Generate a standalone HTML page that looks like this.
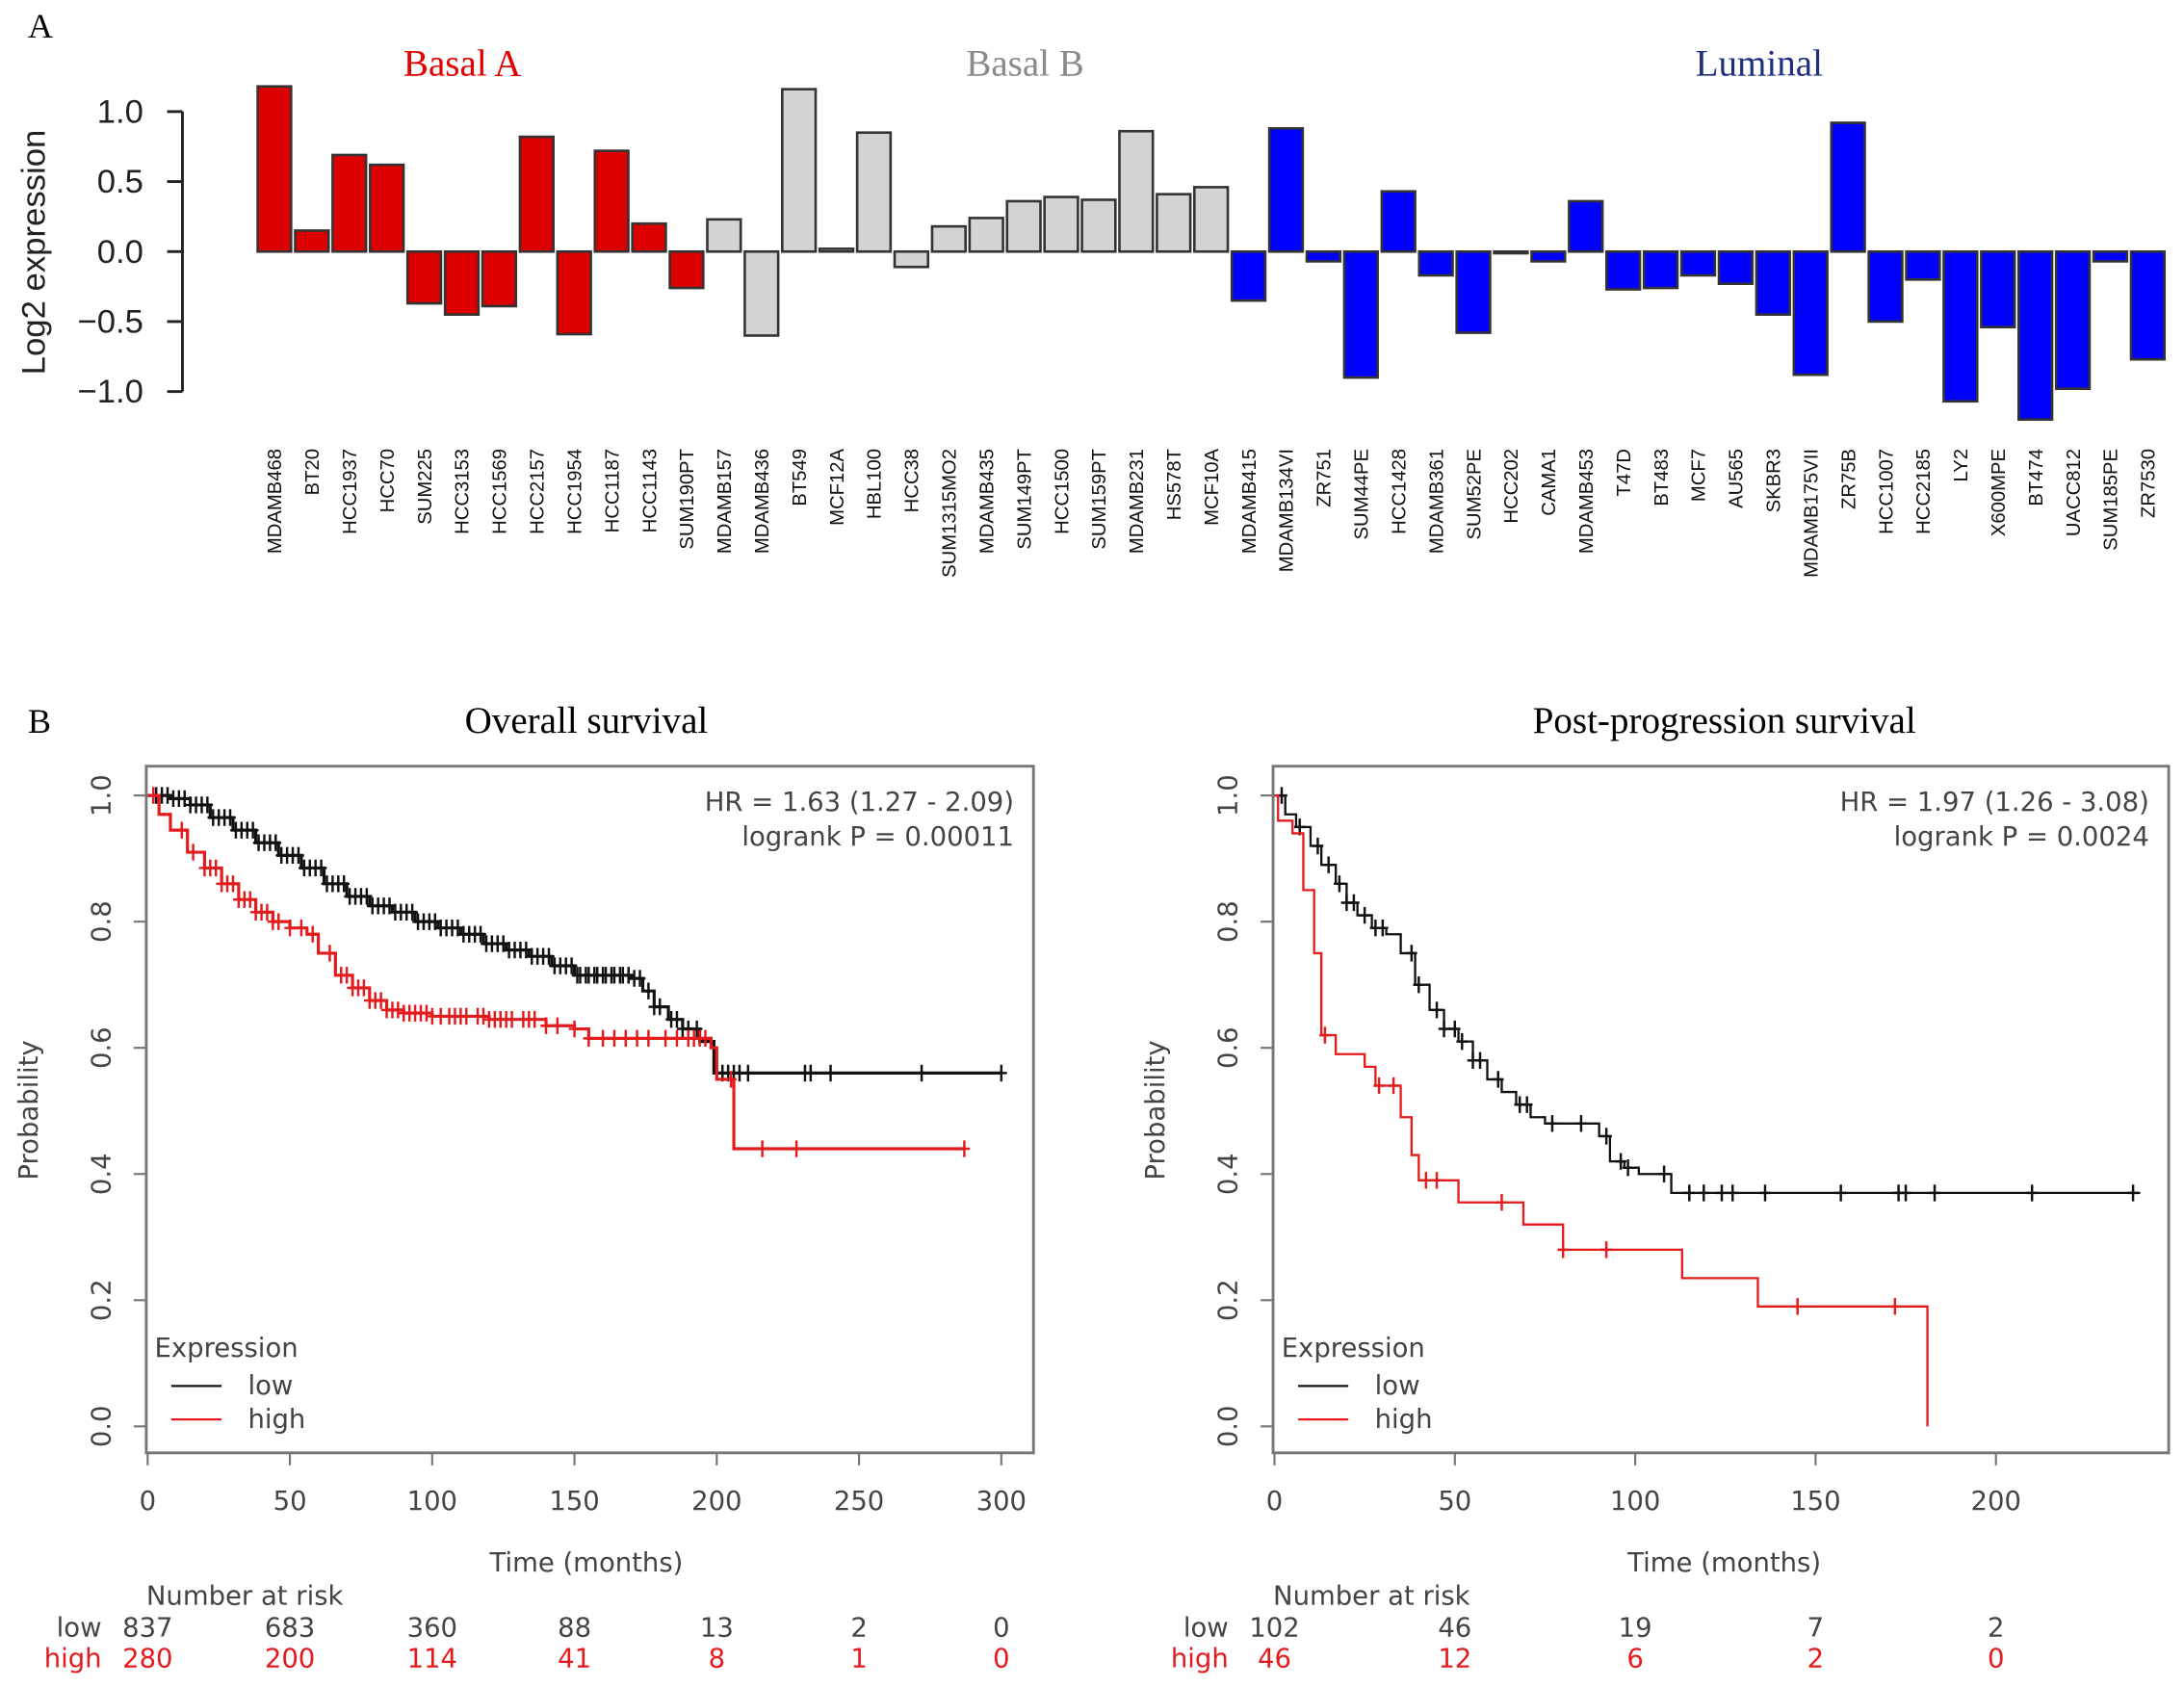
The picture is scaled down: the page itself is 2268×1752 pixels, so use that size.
<!DOCTYPE html>
<html><head><meta charset="utf-8">
<style>
html,body{margin:0;padding:0;background:#fff;}
svg{display:block;}
.serif{font-family:"Liberation Serif",serif;}
.sans{font-family:"Liberation Sans",sans-serif;}
.dj{font-family:"DejaVu Sans","Liberation Sans",sans-serif;}
</style></head>
<body>
<svg id="fig" width="2268" height="1752" viewBox="0 0 1568 1211" xmlns="http://www.w3.org/2000/svg">
<rect width="1568" height="1211" fill="#fff"/>
<g id="panelA">
<text class="serif" x="20" y="27" font-size="25">A</text>
<text class="serif" x="332" y="54" font-size="27" fill="#e00000" text-anchor="middle">Basal A</text>
<text class="serif" x="736" y="54" font-size="27" fill="#8a8a8a" text-anchor="middle">Basal B</text>
<text class="serif" x="1263" y="54" font-size="27" fill="#1f2f80" text-anchor="middle">Luminal</text>
<text class="sans" transform="translate(32,181) rotate(-90)" font-size="24" text-anchor="middle" fill="#222">Log2 expression</text>
</g>
<g id="panelB">
<text class="serif" x="20" y="526" font-size="25">B</text>
</g>
</svg>
<script>
// ---------- Panel A data ----------
const cellLines = ["MDAMB468","BT20","HCC1937","HCC70","SUM225","HCC3153","HCC1569","HCC2157","HCC1954","HCC1187","HCC1143","SUM190PT",
"MDAMB157","MDAMB436","BT549","MCF12A","HBL100","HCC38","SUM1315MO2","MDAMB435","SUM149PT","HCC1500","SUM159PT","MDAMB231","HS578T","MCF10A",
"MDAMB415","MDAMB134VI","ZR751","SUM44PE","HCC1428","MDAMB361","SUM52PE","HCC202","CAMA1","MDAMB453","T47D","BT483","MCF7","AU565","SKBR3","MDAMB175VII","ZR75B","HCC1007","HCC2185","LY2","X600MPE","BT474","UACC812","SUM185PE","ZR7530"];
const expression = [1.18,0.15,0.69,0.62,-0.37,-0.45,-0.39,0.82,-0.59,0.72,0.20,-0.26,
0.23,-0.60,1.16,0.02,0.85,-0.11,0.18,0.24,0.36,0.39,0.37,0.86,0.41,0.46,
-0.35,0.88,-0.07,-0.90,0.43,-0.17,-0.58,-0.01,-0.07,0.36,-0.27,-0.26,-0.17,-0.23,-0.45,-0.88,0.92,-0.50,-0.20,-1.07,-0.54,-1.20,-0.98,-0.07,-0.77];
const subtype = ["A","A","A","A","A","A","A","A","A","A","A","A",
"B","B","B","B","B","B","B","B","B","B","B","B","B","B",
"L","L","L","L","L","L","L","L","L","L","L","L","L","L","L","L","L","L","L","L","L","L","L","L","L"];
const yTicksA = [-1.0,-0.5,0.0,0.5,1.0];
const yTickLabelsA = ["\u22121.0","\u22120.5","0.0","0.5","1.0"];

// ---------- Panel B data ----------
const osLowT = [0,8,15,22,30,38,46,54,62,70,78,86,94,102,110,118,126,134,142,150,170,174,178,183,188,194,199,300];
const osLowS = [1.0,0.995,0.985,0.965,0.945,0.925,0.905,0.885,0.86,0.84,0.825,0.815,0.80,0.79,0.78,0.765,0.755,0.745,0.73,0.715,0.71,0.69,0.665,0.645,0.63,0.61,0.56,0.56];
const osLowCens = [3,5,7,9,11,13,15,17,19,21,23,25,27,29,31,33,35,37,39,41,43,45,47,49,51,53,55,57,59,61,63,65,67,69,71,73,75,77,79,81,83,85,87,89,91,93,95,97,99,101,103,105,107,109,111,113,115,117,119,121,123,125,127,129,131,133,135,137,139,141,143,145,147,149,151,152,154,155,157,158,160,161,163,164,166,167,169,171,173,176,178,180,184,186,188,190,193,202,204,206,208,211,231,233,240,272,300];
const osHighT = [0,4,8,14,20,26,32,38,44,50,56,60,66,72,78,84,90,100,120,140,150,155,198,200,206,287];
const osHighS = [1.0,0.97,0.945,0.91,0.885,0.86,0.835,0.815,0.80,0.79,0.78,0.75,0.715,0.695,0.675,0.66,0.655,0.65,0.645,0.635,0.63,0.615,0.60,0.55,0.44,0.44];
const osHighCens = [2,12,16,20,22,24,26,28,30,32,34,36,38,40,42,44,46,50,54,58,64,68,70,72,74,76,78,80,82,84,86,88,90,92,94,96,98,100,103,106,108,110,112,116,118,120,122,124,126,128,132,134,136,140,144,150,155,160,164,168,172,176,182,186,190,192,194,196,205,216,228,287];
const ppsLowT = [0,3,6,10,13,17,20,23,27,31,35,39,43,47,51,55,59,63,67,71,75,90,93,97,101,110,240];
const ppsLowS = [1.0,0.97,0.95,0.92,0.89,0.86,0.83,0.81,0.79,0.78,0.75,0.70,0.66,0.63,0.61,0.58,0.55,0.53,0.51,0.49,0.48,0.46,0.42,0.41,0.40,0.37,0.37];
const ppsLowCens = [2,7,12,15,18,20,22,25,28,30,38,40,45,47,50,52,55,57,62,68,70,77,85,92,96,98,108,115,119,124,127,136,157,173,175,183,210,238];
const ppsHighT = [0,1,5,8,11,13,17,25,28,35,38,40,51,69,80,113,134,181];
const ppsHighS = [1.0,0.96,0.94,0.85,0.75,0.62,0.59,0.57,0.54,0.49,0.43,0.39,0.355,0.32,0.28,0.235,0.19,0.0];
const ppsHighCens = [14,29,33,42,45,63,80,92,145,172];
const osRiskLow = ["837","683","360","88","13","2","0"];
const osRiskHigh = ["280","200","114","41","8","1","0"];
const ppsRiskLow = ["102","46","19","7","2"];
const ppsRiskHigh = ["46","12","6","2","0"];
const osXTicks = [0,50,100,150,200,250,300];
const ppsXTicks = [0,50,100,150,200];
const probTicks = [0.0,0.2,0.4,0.6,0.8,1.0];

const NS = "http://www.w3.org/2000/svg";
function mk(tag, attrs, parent){ const e=document.createElementNS(NS,tag); for(const k in attrs) e.setAttribute(k,attrs[k]); parent.appendChild(e); return e; }

// ---------- Panel A ----------
const gA = document.getElementById('panelA');
const yA = v => 180.5 - v*100.5;
const xA = i => 197 + i*26.9;
const colors = {A:"#dd0000", B:"#d3d3d3", L:"#0000ff"};
const axA = mk('line',{x1:131,y1:yA(-1),x2:131,y2:yA(1),stroke:"#222","stroke-width":2},gA);


yTicksA.forEach((t,i)=>{
  const tk = mk('line',{x1:120,x2:131,y1:yA(t),y2:yA(t),stroke:"#222","stroke-width":2},gA);
  
  
  const lb = mk('text',{x:103,y:yA(t)+8,"font-size":24,"text-anchor":"end",fill:"#222","class":"sans"},gA);
  lb.textContent = yTickLabelsA[i];
  
  
});
cellLines.forEach((name,i)=>{
  const v = expression[i];
  const y0 = Math.min(yA(0), yA(v)), h = Math.max(Math.abs(yA(v)-yA(0)),1.2);
  const r = mk('rect',{x:xA(i)-12,y:y0,width:24,height:h,fill:colors[subtype[i]],stroke:"#333","stroke-width":1.8},gA);
  
  
  const t = mk('text',{transform:`translate(${xA(i)+5},322) rotate(-90)`,"font-size":14,"text-anchor":"end",fill:"#111","class":"sans"},gA);
  t.textContent = name;
  
  
});

// ---------- Panel B ----------
const gB = document.getElementById('panelB');
function kmPanel(cfg){
  const g = mk('g',{},gB);
  
  
  const x = t => cfg.x0 + t*cfg.kx;
  const y = p => 1024 - p*453;
  const title = mk('text',{x:cfg.tx,y:526,"font-size":27,"text-anchor":"middle","class":"serif"},g);
  title.textContent = cfg.title;
  
  
  const box = mk('rect',{x:cfg.bx,y:550,width:cfg.bw,height:493,fill:"none",stroke:"#777","stroke-width":2},g);
  
  
  probTicks.forEach(p=>{
    const tk = mk('line',{x1:cfg.bx-9,x2:cfg.bx,y1:y(p),y2:y(p),stroke:"#777","stroke-width":1.5},g);
    
    
    const lb = mk('text',{transform:`translate(${cfg.bx-26},${y(p)}) rotate(-90)`,"font-size":19,"text-anchor":"middle",fill:"#444","class":"dj"},g);
    lb.textContent = p.toFixed(1);
    
    
  });
  cfg.xt.forEach(t=>{
    const tk = mk('line',{x1:x(t),x2:x(t),y1:1043,y2:1052,stroke:"#777","stroke-width":1.5},g);
    
    
    const lb = mk('text',{x:x(t),y:1084,"font-size":19,"text-anchor":"middle",fill:"#444","class":"dj"},g);
    lb.textContent = t;
    
    
  });
  const yl = mk('text',{transform:`translate(${cfg.bx-78},797) rotate(-90)`,"font-size":19,"text-anchor":"middle",fill:"#444","class":"dj"},g);
  yl.textContent = "Probability";
  
  
  const xl = mk('text',{x:cfg.tx,y:1128,"font-size":19,"text-anchor":"middle",fill:"#444","class":"dj"},g);
  xl.textContent = "Time (months)";
  
  
  const hr = mk('text',{x:cfg.bx+cfg.bw-14,y:582,"font-size":19,"text-anchor":"end",fill:"#444","class":"dj"},g);
  hr.textContent = cfg.hr;
  
  
  const lp = mk('text',{x:cfg.bx+cfg.bw-14,y:607,"font-size":19,"text-anchor":"end",fill:"#444","class":"dj"},g);
  lp.textContent = cfg.p;
  
  
  function stepVal(T,S,t){ let v=S[0]; for(let i=0;i<T.length;i++){ if(T[i]<=t) v=S[i]; } return v; }
  function curve(T,S,C,color,nm,sw){
    let d = `M${x(T[0])},${y(S[0])}`;
    for(let i=1;i<T.length;i++){ d += ` H${x(T[i])} V${y(S[i])}`; }
    const p = mk('path',{d:d,fill:"none",stroke:color,"stroke-width":sw},g);
    
    
    C.forEach(t=>{
      const v = stepVal(T,S,t), cx=x(t), cy=y(v);
      const m = mk('path',{d:`M${cx-4},${cy} H${cx+4} M${cx},${cy-6} V${cy+6}`,stroke:color,"stroke-width":1.7,fill:"none"},g);
      
      
    });
  }
  curve(cfg.lowT,cfg.lowS,cfg.lowC,"#111","low-expression",cfg.sw);
  curve(cfg.highT,cfg.highS,cfg.highC,"#e41a1c","high-expression",cfg.sw);
  const lx = cfg.bx+6;
  const lt = mk('text',{x:lx,y:974,"font-size":19,fill:"#444","class":"dj"},g);
  lt.textContent = "Expression";
  
  
  [["low","#111",1001],["high","#e41a1c",1025]].forEach(([n,c,yy])=>{
    const ln = mk('line',{x1:lx+12,x2:lx+48,y1:yy-6,y2:yy-6,stroke:c,"stroke-width":1.6},g);
    
    
    const tx = mk('text',{x:lx+67,y:yy,"font-size":19,fill:"#444","class":"dj"},g);
    tx.textContent = n;
    
    
  });
  const nr = mk('text',{x:cfg.bx,y:1152,"font-size":19,fill:"#444","class":"dj"},g);
  nr.textContent = "Number at risk";
  
  
  [["low","#444",1175,cfg.rl],["high","#e41a1c",1197,cfg.rh]].forEach(([n,c,yy,arr])=>{
    const lb = mk('text',{x:cfg.bx-32,y:yy,"font-size":19,fill:c,"text-anchor":"end","class":"dj"},g);
    lb.textContent = n;
    
    
    arr.forEach((v,i)=>{
      const t = mk('text',{x:x(cfg.xt[i]),y:yy,"font-size":19,fill:c,"text-anchor":"middle","class":"dj"},g);
      t.textContent = v;
      
      
    });
  });
}
kmPanel({name:"overall-survival-chart",title:"Overall survival",tx:421,bx:105,bw:637,x0:106,kx:2.043,xt:osXTicks,sw:2.2,
  hr:"HR = 1.63 (1.27 - 2.09)",p:"logrank P = 0.00011",
  lowT:osLowT,lowS:osLowS,lowC:osLowCens,highT:osHighT,highS:osHighS,highC:osHighCens,rl:osRiskLow,rh:osRiskHigh});
kmPanel({name:"post-progression-survival-chart",title:"Post-progression survival",tx:1238,bx:914,bw:643,x0:915,kx:2.59,xt:ppsXTicks,sw:1.6,
  hr:"HR = 1.97 (1.26 - 3.08)",p:"logrank P = 0.0024",
  lowT:ppsLowT,lowS:ppsLowS,lowC:ppsLowCens,highT:ppsHighT,highS:ppsHighS,highC:ppsHighCens,rl:ppsRiskLow,rh:ppsRiskHigh});
</script>
</body></html>
